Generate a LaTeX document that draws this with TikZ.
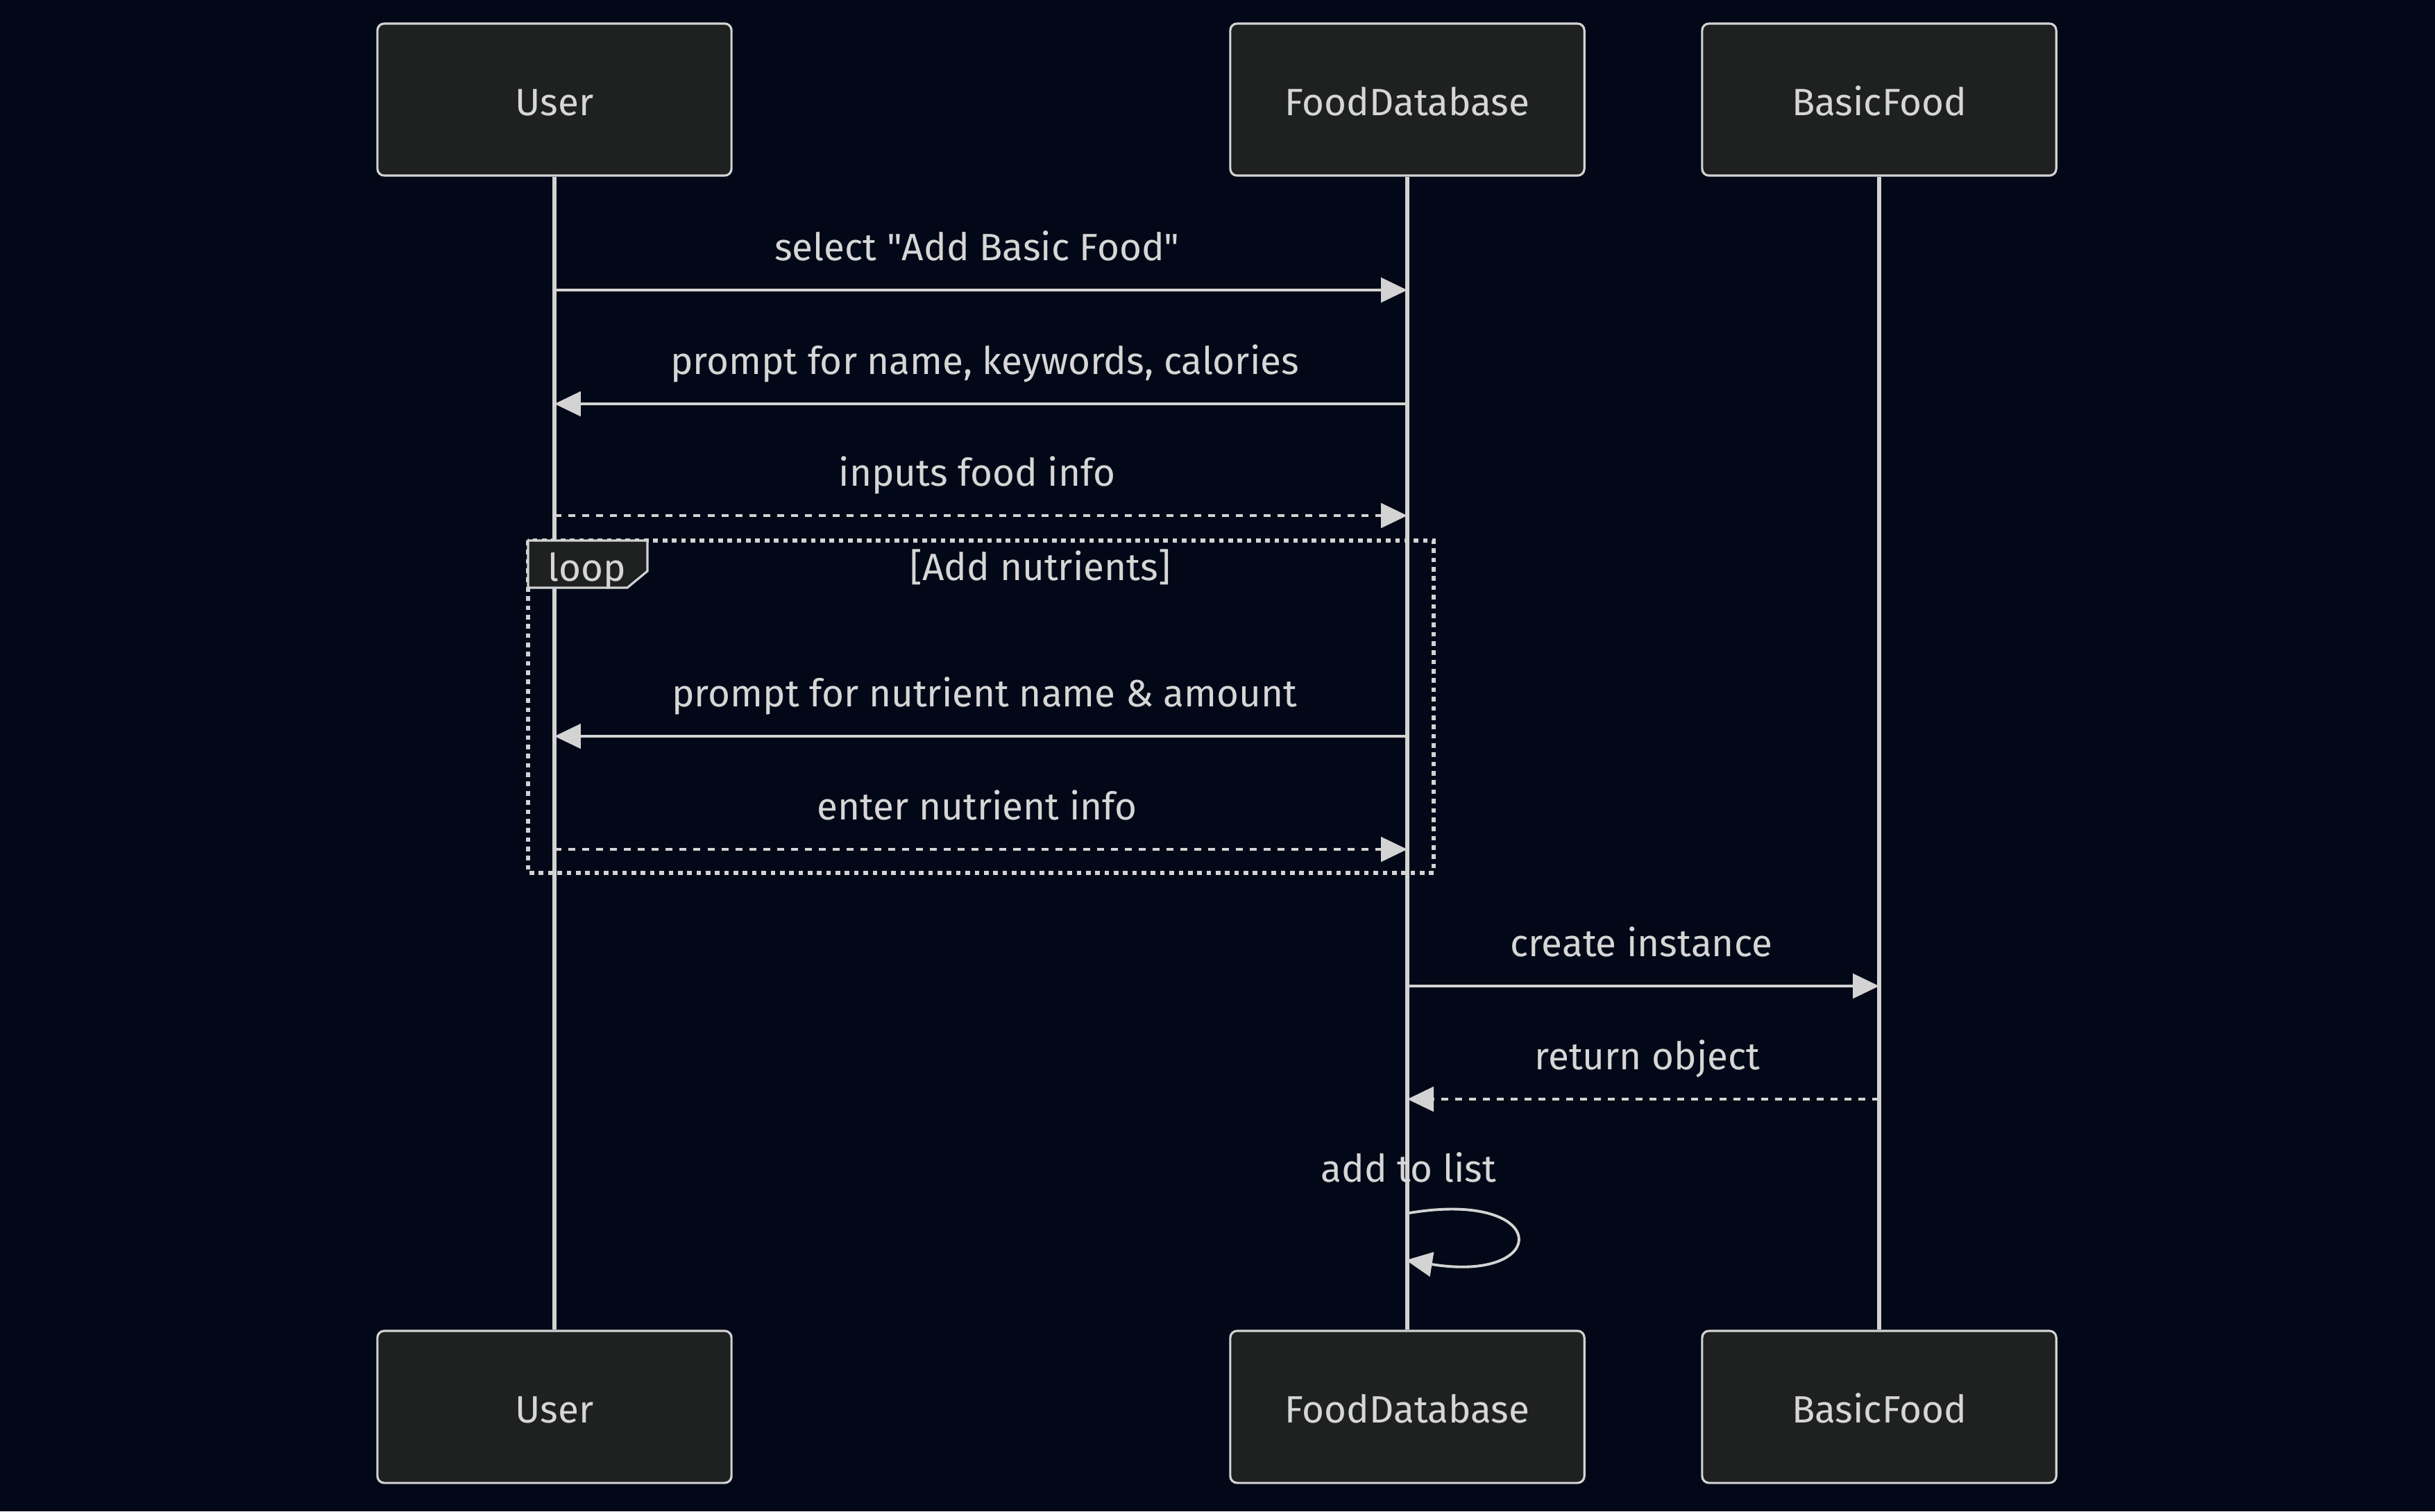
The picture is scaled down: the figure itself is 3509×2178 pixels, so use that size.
\documentclass[tikz,border=0pt]{standalone}
\usepackage{fontspec}
\setmainfont{Fira Sans}
\usetikzlibrary{arrows.meta}
\definecolor{bgc}{RGB}{2,8,23}
\definecolor{boxfill}{RGB}{31,32,32}
\definecolor{linec}{RGB}{211,211,211}
\definecolor{textc}{RGB}{214,214,214}
\begin{document}
\begin{tikzpicture}[x=0.01cm,y=-0.01cm,
  actor/.style={draw=linec,fill=boxfill,line width=0.9pt,rounded corners=2.8pt,minimum width=5.1cm,minimum height=2.19cm,inner sep=0pt,text=textc,font=\fontsize{15.6}{19}\selectfont,text height=14pt,text depth=1pt},
  lifeline/.style={draw=linec,line width=1.9pt},
  msg/.style={draw=linec,line width=1.4pt,-{Triangle[length=10.8pt,width=10pt]}},
  reply/.style={msg,dash pattern=on 2.85pt off 2.85pt},
  lbl/.style={text=textc,font=\fontsize{15.6}{19}\selectfont,inner sep=0pt,text height=11.5pt,text depth=3.5pt},
  loopframe/.style={draw=linec,line width=1.7pt,dash pattern=on 1.9pt off 1.9pt}
]
\fill[bgc] (0,0) rectangle (3509,2178);
\useasboundingbox (0,0) rectangle (3509,2178);

% actors
\node[actor] (u1) at (799,143.5) {User};
\node[actor] (f1) at (2028,143.5) {FoodDatabase};
\node[actor] (b1) at (2708,143.5) {BasicFood};
\node[actor] (u2) at (799,2027.5) {User};
\node[actor] (f2) at (2028,2027.5) {FoodDatabase};
\node[actor] (b2) at (2708,2027.5) {BasicFood};

% lifelines
\draw[lifeline] (u1) -- (u2);
\draw[lifeline] (f1) -- (f2);
\draw[lifeline] (b1) -- (b2);

% loop frame
\draw[loopframe] (761,779) rectangle (2066,1258);
\draw[draw=linec,fill=boxfill,line width=0.9pt] (761,779) -- (933,779) -- (933,823) -- (904,847) -- (761,847) -- cycle;
\node[lbl] (looplbl) at (846,823) {loop};
\node[lbl] (loopcond) at (1499,822) {[Add nutrients]};

% message end points
\coordinate (a1) at (799,418);  \coordinate (a2) at (2028,418);
\coordinate (c1) at (799,582);  \coordinate (c2) at (2028,582);
\coordinate (d1) at (799,743);  \coordinate (d2) at (2028,743);
\coordinate (e1) at (799,1061); \coordinate (e2) at (2028,1061);
\coordinate (g1) at (799,1224); \coordinate (g2) at (2028,1224);
\coordinate (h1) at (2028,1421); \coordinate (h2) at (2708,1421);
\coordinate (k1) at (2028,1584); \coordinate (k2) at (2708,1584);
\coordinate (s1) at (2031,1748); \coordinate (s2) at (2026,1816);

% messages
\node[lbl] (t1) at (1408,361) {select \textquotedbl Add Basic Food\textquotedbl};
\draw[msg] (a1) -- (a2);
\node[lbl] (t2) at (1419,525) {prompt for name, keywords, calories};
\draw[msg] (c2) -- (c1);
\node[lbl] (t3) at (1408,686) {inputs food info};
\draw[reply] (d1) -- (d2);
\node[lbl] (t4) at (1419,1004) {prompt for nutrient name \& amount};
\draw[msg] (e2) -- (e1);
\node[lbl] (t5) at (1408,1167) {enter nutrient info};
\draw[reply] (g1) -- (g2);
\node[lbl] (t6) at (2365,1364) {create instance};
\draw[msg] (h1) -- (h2);
\node[lbl] (t7) at (2374,1527) {return object};
\draw[reply] (k2) -- (k1);
\node[lbl] (t8) at (2030,1689) {add to list};
\draw[msg,line width=1.1pt] (s1) .. controls (2236,1714) and (2236,1850) .. (s2);
\end{tikzpicture}
\end{document}
